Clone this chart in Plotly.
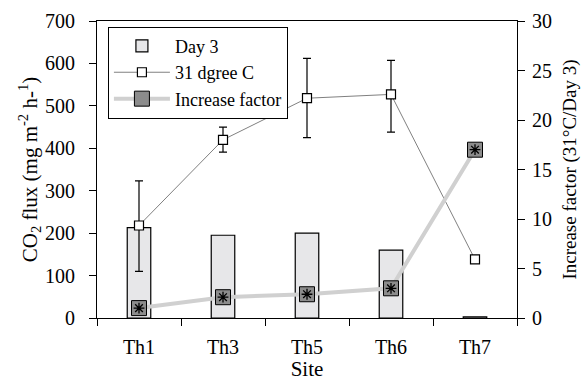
import plotly.graph_objects as go

sites = ["Th1", "Th3", "Th5", "Th6", "Th7"]
day3 = [213, 195, 200, 160, 3]
deg31 = [218, 420, 518, 527, 138]
deg31_err_plus = [105, 30, 94, 80, 0]
deg31_err_minus = [108, 29, 93, 89, 0]
factor = [1.0, 2.1, 2.4, 3.0, 17.0]

FONT = "Liberation Serif, Times New Roman, serif"

fig = go.Figure()
fig.add_trace(go.Bar(
    x=sites, y=day3, name="Day 3", width=0.28,
    marker=dict(color="#e7e7e9", line=dict(color="black", width=1.2)),
))
fig.add_trace(go.Scatter(
    x=sites, y=deg31, name="31 dgree C", mode="lines+markers",
    line=dict(color="#808080", width=1),
    marker=dict(symbol="square", size=9, color="white", line=dict(color="black", width=1.2)),
    error_y=dict(type="data", array=deg31_err_plus, arrayminus=deg31_err_minus,
                 color="black", thickness=1.2, width=4),
))
fig.add_trace(go.Scatter(
    x=sites, y=factor, name="Increase factor", mode="lines+markers", yaxis="y2",
    line=dict(color="#d0d0d0", width=4),
    marker=dict(symbol="square", size=15, color="#8c8c8c", line=dict(color="black", width=1)),
))
fig.add_trace(go.Scatter(
    x=sites, y=factor, mode="markers", yaxis="y2", showlegend=False, hoverinfo="skip",
    marker=dict(symbol="asterisk-open", size=9, color="black", line=dict(color="black", width=1.3)),
))

fig.update_layout(
    width=581, height=381,
    margin=dict(l=97, r=64, t=21, b=63),
    paper_bgcolor="white", plot_bgcolor="white",
    font=dict(family=FONT, size=20, color="black"),
    showlegend=True,
    legend=dict(x=0.026, y=0.981, xanchor="left", yanchor="top",
                bordercolor="black", borderwidth=1, bgcolor="white",
                font=dict(size=18), tracegroupgap=0, itemwidth=56),
    xaxis=dict(
        title=dict(text="Site", font=dict(size=21), standoff=10),
        range=[-0.5, 4.5], showline=True, linecolor="black", linewidth=1.2,
        mirror=True, ticks="outside", tickson="boundaries", ticklen=7,
        tickcolor="black", showgrid=False, zeroline=False, ticklabelstandoff=11,
        automargin=False,
    ),
    yaxis=dict(
        title=dict(text="CO<sub>2</sub> flux (mg m<sup>-2</sup> h-<sup>1</sup>)", font=dict(size=21), standoff=1),
        range=[0, 700], dtick=100, showline=True, linecolor="black", linewidth=1.2,
        ticks="outside", ticklen=7, tickcolor="black", showgrid=False, zeroline=False,
        ticklabelstandoff=10, automargin=False,
    ),
    yaxis2=dict(
        title=dict(text="Increase factor (31°C/Day 3)", font=dict(size=19), standoff=14),
        overlaying="y", side="right", range=[0, 30], dtick=5,
        showline=True, linecolor="black", linewidth=1.2,
        ticks="outside", ticklen=7, tickcolor="black", showgrid=False, zeroline=False,
        ticklabelstandoff=3, automargin=False,
    ),
)

fig.write_html("out.html")
